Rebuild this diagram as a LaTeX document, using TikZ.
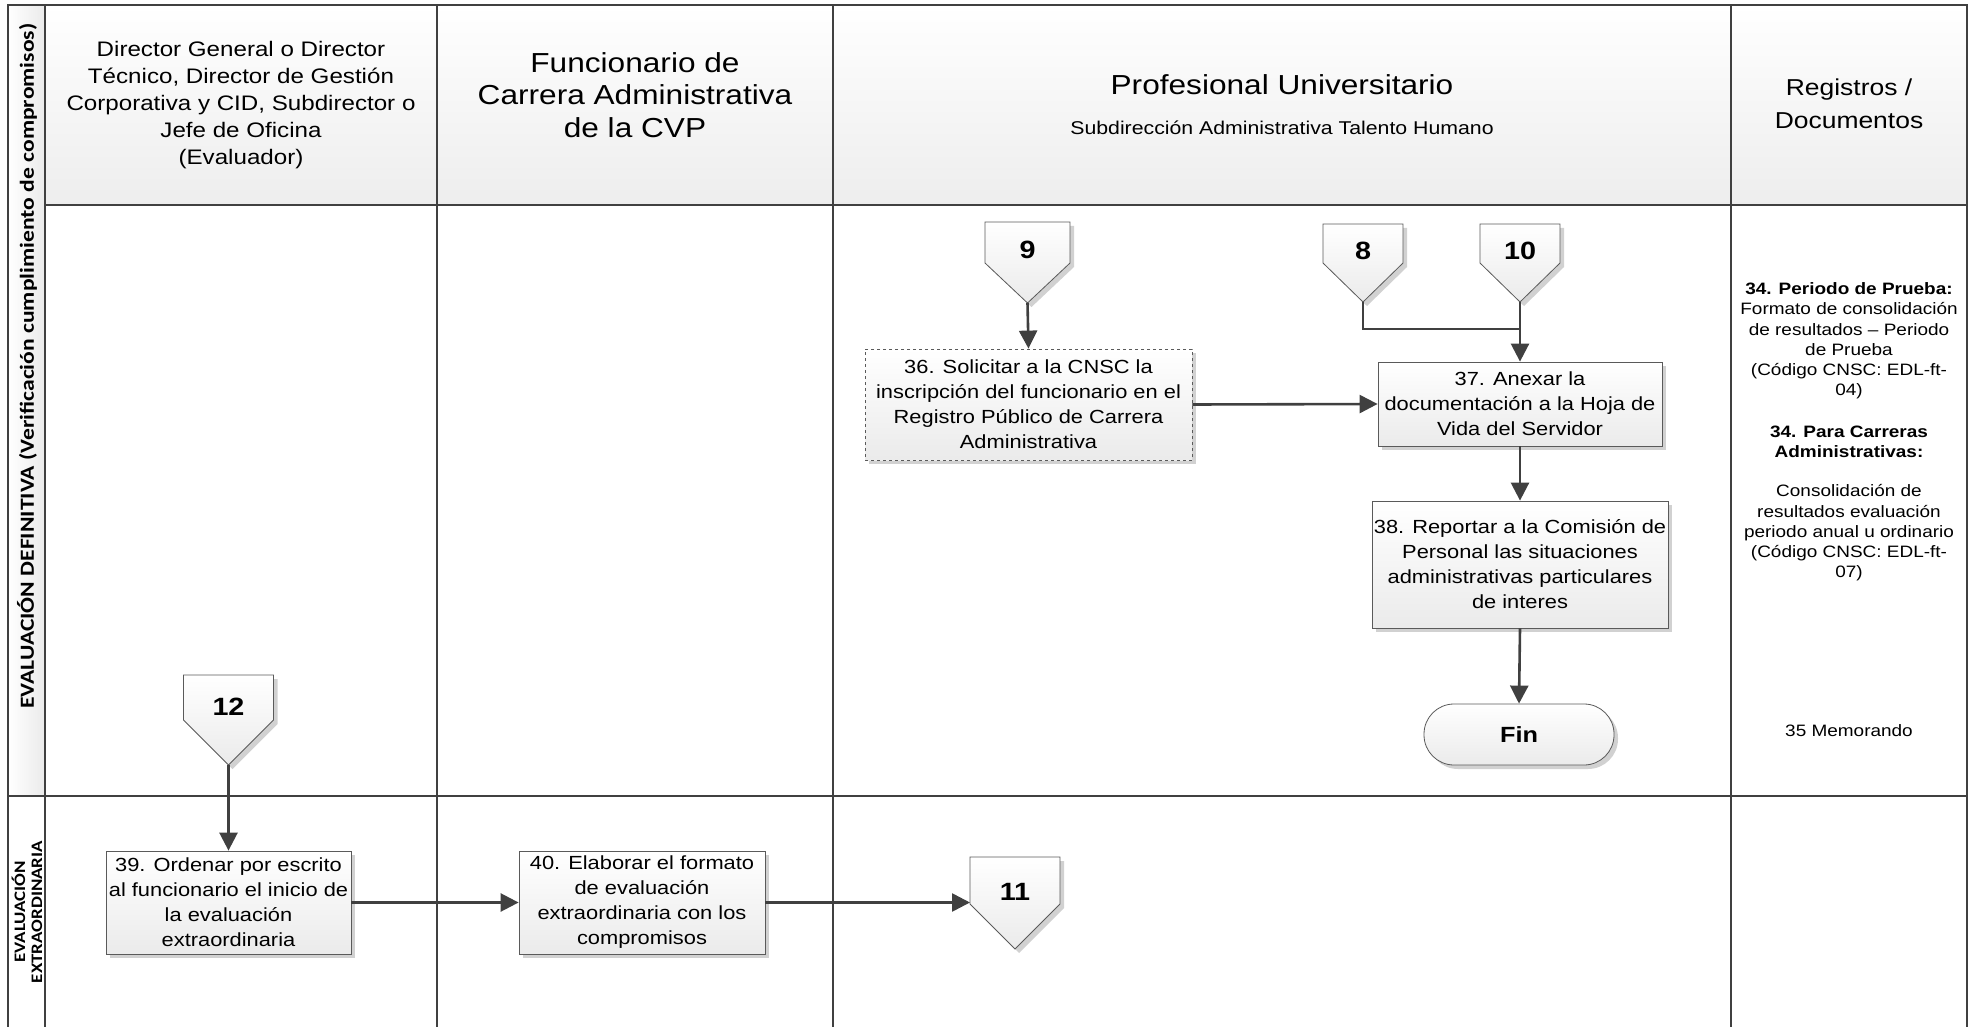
\documentclass[tikz,border=0pt]{standalone}
\usepackage{fontspec}
\setmainfont[FakeStretch=1.15]{Liberation Sans}
\newfontfamily\lanefont[FakeStretch=1.18]{Carlito}
\usetikzlibrary{arrows.meta,shadows}
\definecolor{linegray}{HTML}{404040}
\definecolor{boxgray}{HTML}{5A5A5A}
\newcommand{\fs}[2]{\fontsize{#1}{#2}\selectfont}
\begin{document}
\begin{tikzpicture}[x=1pt,y=-1pt,
    lane/.style={draw=linegray,line width=2.4pt},
    boxshadow/.style={drop shadow={shadow xshift=4pt,shadow yshift=-4pt,fill=black!18,opacity=1}},
    task/.style={draw=boxgray,line width=0.8pt,top color=white,bottom color=black!8,
        align=center,inner sep=0pt,font=\fs{19}{25},boxshadow},
    pentagon/.style={draw=boxgray,line width=0.8pt,top color=white,bottom color=black!8,boxshadow},
    conn/.style={inner sep=0pt,font=\bfseries\fs{25}{25}},
    line/.style={draw=linegray,line width=2.6pt},
    flow/.style={line,-{Triangle[length=18pt,width=18pt]}}]
    \useasboundingbox (0,0) rectangle (1971,1027);
    \fill[top color=white,bottom color=black!7] (45,5) rectangle (1967,205);
    \fill[left color=white,right color=black!8] (8,5) rectangle (45,796);
    \draw[lane] (8,1027) -- (8,5) -- (1967,5) -- (1967,1027);
    \draw[lane] (45,5) -- (45,1027);
    \draw[lane] (437,5) -- (437,1027);
    \draw[lane] (833,5) -- (833,1027);
    \draw[lane] (1731,5) -- (1731,1027);
    \draw[lane] (45,205) -- (1967,205);
    \draw[lane] (8,796) -- (1967,796);
    \node[rotate=90,font=\lanefont\bfseries\fs{20}{20}] (ldef) at (27,366) {EVALUACIÓN DEFINITIVA (Verificación cumplimiento de compromisos)};
    \node[rotate=90,align=center,font=\lanefont\bfseries\fs{16}{17}] (lext) at (27,912) {EVALUACIÓN\\EXTRAORDINARIA};
    \node[font=\fs{21}{27},align=center] (hdir) at (241,105) {Director General o Director\\Técnico, Director de Gestión\\Corporativa y CID, Subdirector o\\Jefe de Oficina\\(Evaluador)};
    \node[font=\fs{27.5}{32.5},align=center] (hfun) at (635,95) {Funcionario de\\Carrera Administrativa\\de la CVP};
    \node[font=\fs{27.5}{32}] (hpro) at (1282,85) {Profesional Universitario};
    \node[font=\fs{18.5}{22}] (hsub) at (1282,128) {Subdirección Administrativa Talento Humano};
    \node[font=\fs{23}{33},align=center] (hreg) at (1849,104) {Registros /\\Documentos};
    \node[font=\fs{16.5}{20.2},align=center] (reg1) at (1849,341) {\textbf{34. Periodo de Prueba:}\\Formato de consolidación\\de resultados – Periodo\\de Prueba\\(Código CNSC: EDL-ft-\\04)};
    \node[font=\bfseries\fs{16.5}{20.2},align=center] (reg2) at (1849,442) {34. Para Carreras\\Administrativas:};
    \node[font=\fs{16.5}{20.2},align=center] (reg3) at (1849,533) {Consolidación de\\resultados evaluación\\periodo anual u ordinario\\(Código CNSC: EDL-ft-\\07)};
    \node[font=\fs{16.5}{20}] (reg4) at (1849,731) {35 Memorando};
    % conectores de pagina
    \path[pentagon] (985,222) -- (1070,222) -- (1070,263) -- (1027.5,303) -- (985,263) -- cycle;
    \path[pentagon] (1323,224) -- (1403,224) -- (1403,263) -- (1363,302) -- (1323,263) -- cycle;
    \path[pentagon] (1480,224) -- (1560,224) -- (1560,263) -- (1520,302) -- (1480,263) -- cycle;
    \path[pentagon] (183.5,675) -- (273.5,675) -- (273.5,720) -- (228.5,765) -- (183.5,720) -- cycle;
    \path[pentagon] (970,857) -- (1060,857) -- (1060,904) -- (1015,949) -- (970,904) -- cycle;
    \node[conn] (c9) at (1027.5,250) {9};
    \node[conn] (c8) at (1363,251) {8};
    \node[conn] (c10) at (1520,251) {10};
    \node[conn] (c12) at (228.5,707) {12};
    \node[conn] (c11) at (1015,892) {11};
    \coordinate (c9tip) at (1027.5,303);
    \coordinate (c8tip) at (1363,302);
    \coordinate (c10tip) at (1520,302);
    \coordinate (c12tip) at (228.5,765);
    \coordinate (c11in) at (970,902.5);
    \node[task,dashed,minimum width=327,minimum height=111] (t36) at (1028.5,404.5) {36. Solicitar a la CNSC la\\inscripción del funcionario en el\\Registro Público de Carrera\\Administrativa};
    \node[task,minimum width=284,minimum height=84] (t37) at (1520,404) {37. Anexar la\\documentación a la Hoja de\\Vida del Servidor};
    \node[task,minimum width=296,minimum height=127] (t38) at (1520,564.5) {38. Reportar a la Comisión de\\Personal las situaciones\\administrativas particulares\\de interes};
    \node[task,rounded corners=30pt,minimum width=190,minimum height=61,font=\bfseries\fs{22}{22}] (fin) at (1519,734.5) {Fin};
    \node[task,minimum width=245,minimum height=103] (t39) at (228.5,902.5) {39. Ordenar por escrito\\al funcionario el inicio de\\la evaluación\\extraordinaria};
    \node[task,minimum width=246,minimum height=103] (t40) at (642,902.5) {40. Elaborar el formato\\de evaluación\\extraordinaria con los\\compromisos};
    \coordinate (j8) at (1520,329);
    \draw[flow] (c9tip) -- (t36.north);
    \draw[flow] (t36.east) -- (t37.west);
    \draw[line] (c8tip) |- (j8);
    \draw[flow] (c10tip) -- (t37.north);
    \draw[flow] (t37.south) -- (t38.north);
    \draw[flow] (t38.south) -- (fin.north);
    \draw[flow] (c12tip) -- (t39.north);
    \draw[flow] (t39.east) -- (t40.west);
    \draw[flow] (t40.east) -- (c11in);
\end{tikzpicture}
\end{document}
